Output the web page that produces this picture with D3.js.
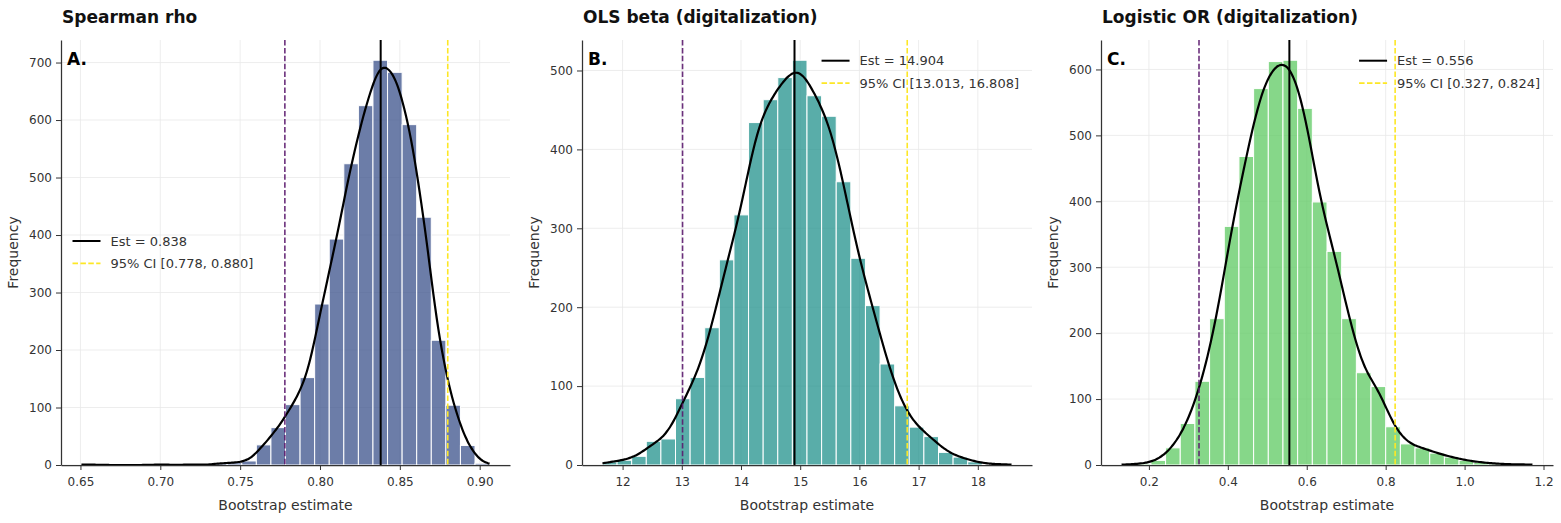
<!DOCTYPE html>
<html lang="en">
<head>
<meta charset="UTF-8">
<title>Bootstrap distributions</title>
<script src="https://d3js.org/d3.v7.min.js"></script>
<style>
  body { margin: 0; background: #fff; font-family: 'DejaVu Sans', sans-serif; }
  svg { display: block; }
  .tick text { font-size: 12px; fill: #333; font-family: 'DejaVu Sans', sans-serif; }
  .tick line { stroke: #333; stroke-width: 1; }
  .domain { stroke: #333; stroke-width: 1.25; }
</style>
</head>
<body>
<svg id="fig" width="1561" height="523"></svg>
<script>
const titles = ["Spearman rho", "OLS beta (digitalization)", "Logistic OR (digitalization)"];
const letters = ["A.", "B.", "C."];

// bootstrap histogram counts, 28 equal bins from min to max of the draws
const rhoCounts = [1, 0, 0, 0, 0, 1, 0, 1, 0, 3, 4, 7, 35, 65, 105, 152, 280, 393, 524, 625, 704, 683, 592, 431, 217, 104, 34, 3];
const betaCounts = [4, 6, 11, 30, 33, 84, 111, 174, 260, 317, 434, 463, 491, 513, 468, 442, 359, 262, 202, 128, 75, 48, 36, 16, 10, 4, 1, 1];
const orCounts = [1, 2, 7, 26, 63, 127, 222, 362, 468, 571, 612, 614, 541, 399, 324, 222, 140, 119, 58, 32, 26, 18, 12, 7, 4, 2, 1, 1];
const rhoRange = [0.6506, 0.9062];
const betaRange = [11.66, 18.57];
const orRange = [0.1307, 1.172];

const estimates = [0.838, 14.904, 0.556];
const ciLow = [0.778, 13.013, 0.327];
const ciHigh = [0.880, 16.808, 0.824];

const rhoXTicks = [0.65, 0.70, 0.75, 0.80, 0.85, 0.90];
const betaXTicks = [12, 13, 14, 15, 16, 17, 18];
const orXTicks = [0.2, 0.4, 0.6, 0.8, 1.0, 1.2];
const rhoYTicks = [0, 100, 200, 300, 400, 500, 600, 700];
const betaYTicks = [0, 100, 200, 300, 400, 500];
const orYTicks = [0, 100, 200, 300, 400, 500, 600];

const counts = [rhoCounts, betaCounts, orCounts];
const ranges = [rhoRange, betaRange, orRange];
const xTicks = [rhoXTicks, betaXTicks, orXTicks];
const yTicks = [rhoYTicks, betaYTicks, orYTicks];
const xFormats = [d3.format(".2f"), d3.format("d"), d3.format(".1f")];
const barColors = ["#3b528b", "#21918c", "#5ec962"];
const legendPlace = ["left", "right", "right"];

const lefts = [61, 582, 1101], rights = [510, 1032, 1553];
const plotTop = 40, plotBottom = 465;
const f3 = d3.format(".3f");

// standard normal cdf
function erf(x) {
  const s = Math.sign(x); x = Math.abs(x);
  const t = 1 / (1 + 0.3275911 * x);
  const y = 1 - (((((1.061405429 * t - 1.453152027) * t) + 1.421413741) * t - 0.284496736) * t + 0.254829592) * t * Math.exp(-x * x);
  return s * y;
}
const Phi = z => 0.5 * (1 + erf(z / Math.SQRT2));

// gaussian kde (scott) from binned counts, scaled to counts
function kdeCurve(c, lo, hi) {
  const k = c.length, w = (hi - lo) / k, n = d3.sum(c);
  const mids = c.map((_, i) => lo + (i + 0.5) * w);
  const mean = d3.sum(c, (v, i) => v * mids[i]) / n;
  const varr = d3.sum(c, (v, i) => v * (mids[i] - mean) ** 2) / (n - 1) - w * w / 12;
  const h = Math.sqrt(varr) * Math.pow(n, -0.2);
  return d3.range(240).map(j => {
    const x = lo + (hi - lo) * j / 239;
    let y = 0;
    c.forEach((v, i) => {
      if (v) y += v * (Phi((x - (lo + i * w)) / h) - Phi((x - (lo + (i + 1) * w)) / h));
    });
    return [x, y];
  });
}

const svg = d3.select("#fig");

counts.forEach((c, p) => {
  const [lo, hi] = ranges[p];
  const pad = (hi - lo) * 0.05;
  const w = (hi - lo) / c.length;
  const curve = kdeCurve(c, lo, hi);
  const ymax = Math.max(d3.max(c), d3.max(curve, d => d[1])) * 1.05;

  const x = d3.scaleLinear().domain([lo - pad, hi + pad]).range([lefts[p], rights[p]]);
  const y = d3.scaleLinear().domain([0, ymax]).range([plotBottom, plotTop]);
  const g = svg.append("g");

  // grid
  g.append("g").selectAll("line").data(xTicks[p]).join("line")
    .attr("x1", d => x(d)).attr("x2", d => x(d)).attr("y1", plotTop).attr("y2", plotBottom)
    .attr("stroke", "#e8e8e8").attr("stroke-width", 0.8);
  g.append("g").selectAll("line").data(yTicks[p]).join("line")
    .attr("x1", lefts[p]).attr("x2", rights[p]).attr("y1", d => y(d)).attr("y2", d => y(d))
    .attr("stroke", "#e8e8e8").attr("stroke-width", 0.8);

  // bars
  g.append("g").selectAll("rect").data(c).join("rect")
    .attr("x", (d, i) => x(lo + i * w))
    .attr("width", x(lo + w) - x(lo))
    .attr("y", d => y(d))
    .attr("height", d => plotBottom - y(d))
    .attr("fill", barColors[p]).attr("fill-opacity", 0.75)
    .attr("stroke", "#fff").attr("stroke-width", 1);

  // kde
  g.append("path").datum(curve)
    .attr("d", d3.line().x(d => x(d[0])).y(d => y(d[1])).curve(d3.curveBasis))
    .attr("fill", "none").attr("stroke", "#000").attr("stroke-width", 2.2);

  // estimate and CI lines
  g.append("line").attr("x1", x(estimates[p])).attr("x2", x(estimates[p]))
    .attr("y1", plotTop).attr("y2", plotBottom).attr("stroke", "#000").attr("stroke-width", 2);
  g.append("line").attr("x1", x(ciLow[p])).attr("x2", x(ciLow[p]))
    .attr("y1", plotTop).attr("y2", plotBottom).attr("stroke", "#5b1a6e").attr("stroke-opacity", 0.9)
    .attr("stroke-width", 1.6).attr("stroke-dasharray", "5.5,2.4");
  g.append("line").attr("x1", x(ciHigh[p])).attr("x2", x(ciHigh[p]))
    .attr("y1", plotTop).attr("y2", plotBottom).attr("stroke", "#fde725")
    .attr("stroke-width", 1.6).attr("stroke-dasharray", "5.5,2.4");

  // axes
  g.append("g").attr("transform", `translate(0,${plotBottom})`)
    .call(d3.axisBottom(x).tickValues(xTicks[p]).tickFormat(xFormats[p]).tickSize(5).tickSizeOuter(0).tickPadding(7));
  g.append("g").attr("transform", `translate(${lefts[p]},0)`)
    .call(d3.axisLeft(y).tickValues(yTicks[p]).tickSize(5).tickSizeOuter(0).tickPadding(4));

  // titles and labels
  g.append("text").attr("x", lefts[p] + 1).attr("y", 23).text(titles[p])
    .attr("font-size", 17).attr("font-weight", "bold").attr("fill", "#111");
  g.append("text").attr("x", lefts[p] + 6).attr("y", 65).text(letters[p])
    .attr("font-size", 17).attr("font-weight", "bold").attr("fill", "#000");
  g.append("text").attr("x", (lefts[p] + rights[p]) / 2).attr("y", 510)
    .attr("text-anchor", "middle").attr("font-size", 14).attr("fill", "#333").text("Bootstrap estimate");
  g.append("text").attr("transform", `translate(${lefts[p] - 43},${(plotTop + plotBottom) / 2}) rotate(-90)`)
    .attr("text-anchor", "middle").attr("font-size", 14).attr("fill", "#333").text("Frequency");

  // legend
  const items = [
    { label: `Est = ${f3(estimates[p])}`, color: "#000", dash: null, width: 2 },
    { label: `95% CI [${f3(ciLow[p])}, ${f3(ciHigh[p])}]`, color: "#fde725", dash: "5.5,2.4", width: 1.6 }
  ];
  const lg = g.append("g");
  const rows = lg.selectAll("g").data(items).join("g")
    .attr("transform", (d, i) => `translate(0,${i * 22.4})`);
  rows.append("line").attr("x1", 0).attr("x2", 28).attr("y1", 0).attr("y2", 0)
    .attr("stroke", d => d.color).attr("stroke-width", d => d.width)
    .attr("stroke-dasharray", d => d.dash);
  rows.append("text").attr("x", 38).attr("dy", "0.35em").attr("font-size", 13).attr("fill", "#333")
    .text(d => d.label);
  const lw = lg.node().getBBox().width;
  if (legendPlace[p] === "left") {
    lg.attr("transform", `translate(${lefts[p] + 11.5},${(plotTop + plotBottom) / 2 - 11.5})`);
  } else {
    lg.attr("transform", `translate(${rights[p] - 13 - lw},60.7)`);
  }
});
</script>
</body>
</html>
